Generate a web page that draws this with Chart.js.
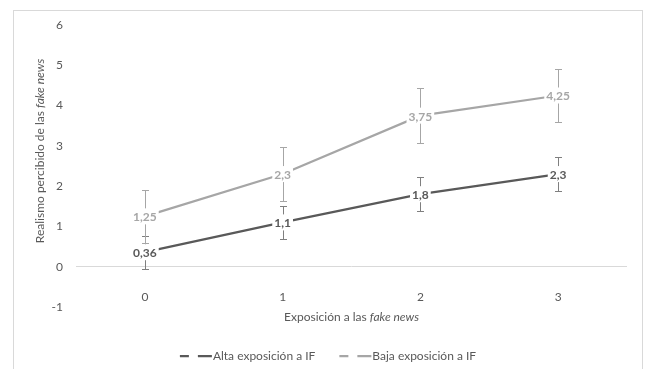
<!DOCTYPE html>
<html>
<head>
<meta charset="utf-8">
<script src="https://cdn.jsdelivr.net/npm/chart.js@4.4.0/dist/chart.umd.min.js"></script>
<style>
  html, body { margin: 0; padding: 0; background: #fff; }
  #frame { position: absolute; left: 13px; top: 10px; width: 630px; height: 380px; border: 1px solid #d9d9d9; box-sizing: border-box; }
  #wrap { position: absolute; left: 0; top: 0; width: 645px; height: 369px; }
</style>
</head>
<body>
<div id="frame"></div>
<div id="wrap"><canvas id="chart"></canvas></div>
<script>
// data
const categories = ["0", "1", "2", "3"];
const alta = [0.36, 1.1, 1.8, 2.3];
const baja = [1.25, 2.3, 3.75, 4.25];
const altaErr = [0.41, 0.41, 0.42, 0.42];
const bajaErr = [0.66, 0.67, 0.68, 0.67];
const yTicks = [-1, 0, 1, 2, 3, 4, 5, 6];

const FONT = "Lato, 'Open Sans', sans-serif";
const TEXT = "#595959";
const DARK = "#595959";
const LIGHT = "#a6a6a6";

const fmt = v => String(v).replace(".", ",");

// error bars with caps
const errorBars = {
  id: "errorBars",
  afterDatasetsDraw(chart) {
    const ctx = chart.ctx, xs = chart.scales.x, ys = chart.scales.y;
    chart.data.datasets.forEach(ds => {
      ctx.save();
      ctx.strokeStyle = ds.errorColor;
      ctx.lineWidth = 1;
      ds.data.forEach((v, i) => {
        const px = Math.round(xs.getPixelForValue(i)) + 0.5;
        const top = Math.round(ys.getPixelForValue(v + ds.errors[i])) + 0.5;
        const bot = Math.round(ys.getPixelForValue(v - ds.errors[i])) + 0.5;
        ctx.beginPath();
        ctx.moveTo(px, top); ctx.lineTo(px, bot);
        ctx.moveTo(px - 3.5, top); ctx.lineTo(px + 3.5, top);
        ctx.moveTo(px - 3.5, bot); ctx.lineTo(px + 3.5, bot);
        ctx.stroke();
      });
      ctx.restore();
    });
  }
};

// value labels centred on the points, white box behind
const valueLabels = {
  id: "valueLabels",
  afterDatasetsDraw(chart) {
    const ctx = chart.ctx;
    chart.data.datasets.forEach((ds, di) => {
      const meta = chart.getDatasetMeta(di);
      ctx.save();
      ctx.font = "bold 12px " + FONT;
      ctx.textAlign = "center";
      ctx.textBaseline = "middle";
      meta.data.forEach((pt, i) => {
        const txt = fmt(ds.data[i]);
        const w = ctx.measureText(txt).width;
        ctx.fillStyle = "#fff";
        ctx.fillRect(pt.x - w / 2 - 2, pt.y - 8, w + 4, 16);
        ctx.fillStyle = ds.borderColor;
        ctx.fillText(txt, pt.x, pt.y + 1);
      });
      ctx.restore();
    });
  }
};

// axis titles with italic "fake news" and the bottom legend
function mixedText(ctx, parts, cx, cy) {
  let total = 0;
  parts.forEach(p => { ctx.font = p[1] + " 12px " + FONT; total += ctx.measureText(p[0]).width; });
  let x = cx - total / 2;
  parts.forEach(p => {
    ctx.font = p[1] + " 12px " + FONT;
    ctx.fillText(p[0], x, cy);
    x += ctx.measureText(p[0]).width;
  });
}

const extras = {
  id: "extras",
  afterDraw(chart) {
    const ctx = chart.ctx, a = chart.chartArea;
    ctx.save();
    ctx.fillStyle = TEXT;
    ctx.textAlign = "left";
    ctx.textBaseline = "middle";
    mixedText(ctx, [["Exposición a las ", "normal"], ["fake news", "italic"]], (a.left + a.right) / 2, 317);
    ctx.save();
    ctx.translate(40, 151);
    ctx.rotate(-Math.PI / 2);
    mixedText(ctx, [["Realismo percibido de las ", "normal"], ["fake news", "italic"]], 0, 0);
    ctx.restore();

    // legend
    ctx.font = "12px " + FONT;
    const symW = 32, gap = 1, itemGap = 24;
    const items = chart.data.datasets.map(ds => ({ label: ds.label, color: ds.borderColor, w: symW + gap + ctx.measureText(ds.label).width }));
    const total = items.reduce((s, it) => s + it.w, 0) + itemGap * (items.length - 1);
    let x = 328 - total / 2;
    const y = 356;
    items.forEach(it => {
      ctx.strokeStyle = it.color;
      ctx.lineWidth = 2.25;
      ctx.setLineDash([9, 9, 14, 9]);
      ctx.beginPath();
      ctx.moveTo(x, y); ctx.lineTo(x + symW, y);
      ctx.stroke();
      ctx.setLineDash([]);
      ctx.fillStyle = TEXT;
      ctx.fillText(it.label, x + symW + gap, y);
      x += it.w + itemGap;
    });
    ctx.restore();
  }
};

new Chart(document.getElementById("chart"), {
  type: "line",
  data: {
    labels: categories,
    datasets: [
      { label: "Alta exposición a IF", data: alta, errors: altaErr, errorColor: "#7f7f7f", borderColor: DARK, borderWidth: 2.25, pointRadius: 0, tension: 0 },
      { label: "Baja exposición a IF", data: baja, errors: bajaErr, errorColor: "#a6a6a6", borderColor: LIGHT, borderWidth: 2.25, pointRadius: 0, tension: 0 }
    ]
  },
  options: {
    responsive: true,
    maintainAspectRatio: false,
    animation: false,
    layout: { padding: { left: 0, right: 18, top: 25, bottom: 62 } },
    plugins: { legend: { display: false }, tooltip: { enabled: false } },
    scales: {
      x: {
        position: { y: 0 },
        offset: true,
        grid: { display: false },
        border: { display: false },
        ticks: { color: TEXT, font: { family: FONT, size: 12 }, padding: 15 }
      },
      y: {
        min: -1,
        max: 6,
        afterFit: s => { s.width = 76; },
        afterBuildTicks: s => { s.ticks = yTicks.map(v => ({ value: v })); },
        grid: { drawTicks: false, color: c => c.tick && c.tick.value === 0 ? "#d9d9d9" : "rgba(0,0,0,0)" },
        border: { display: false },
        ticks: { color: TEXT, font: { family: FONT, size: 12 }, padding: 13 }
      }
    }
  },
  plugins: [errorBars, valueLabels, extras]
});
</script>
</body>
</html>
